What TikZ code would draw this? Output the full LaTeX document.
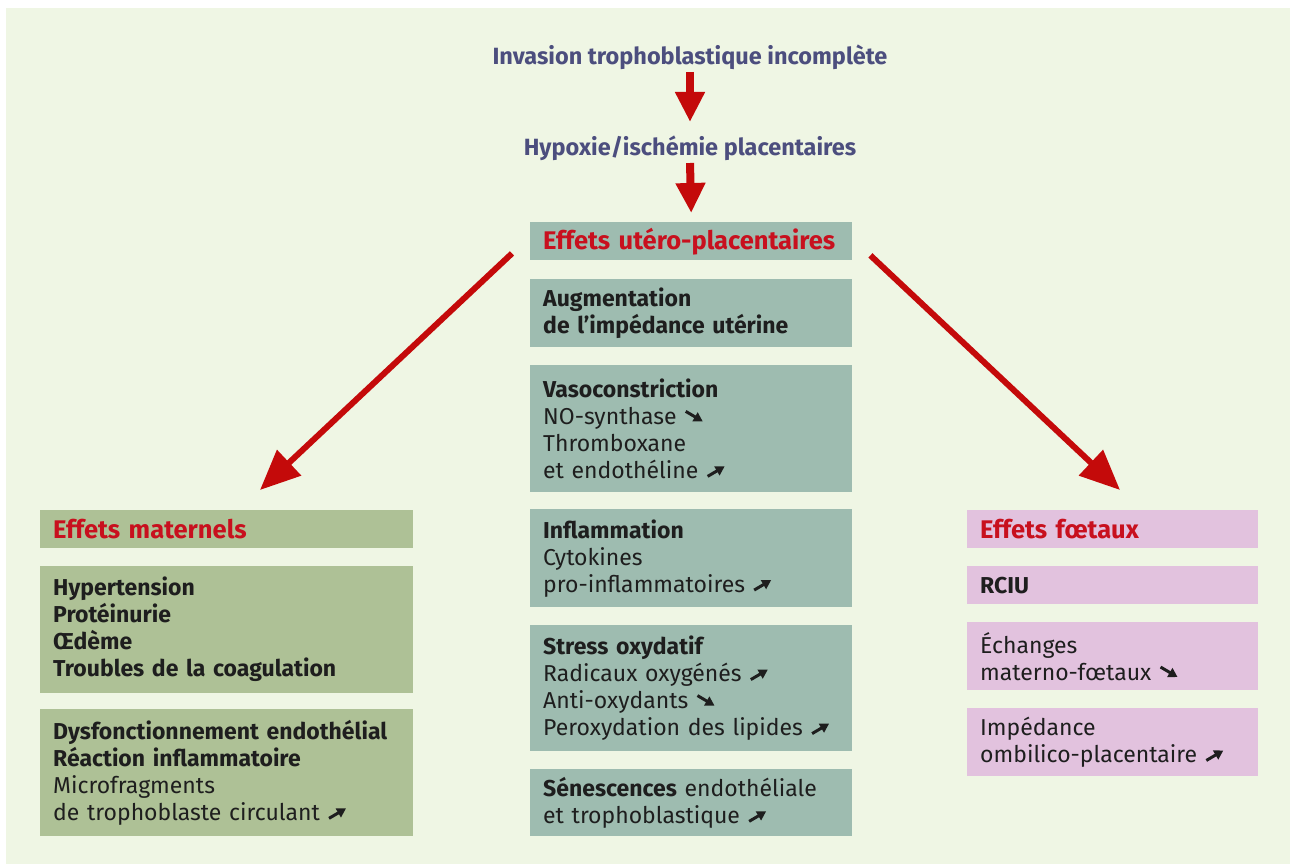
\documentclass[tikz,border=0pt]{standalone}
\usepackage{fontspec}
\setmainfont{Fira Sans}
\usetikzlibrary{arrows.meta,calc}
\definecolor{panel}{HTML}{EFF6E4}
\definecolor{cenc}{HTML}{9EBCB0}
\definecolor{matc}{HTML}{AEC196}
\definecolor{foec}{HTML}{E2C2DE}
\definecolor{titred}{HTML}{C8101E}
\definecolor{arrred}{HTML}{C40A0A}
\definecolor{slate}{HTML}{4C4E7E}
\definecolor{ink}{HTML}{1E1E1E}
\newcommand{\incr}{\tikz[baseline=0pt,x=1pt,y=1pt]\draw[ink,line width=3pt,-{Triangle[length=9pt,width=10pt]}] (0,2) -- (17,12);}
\newcommand{\decr}{\tikz[baseline=0pt,x=1pt,y=1pt]\draw[ink,line width=3pt,-{Triangle[length=9pt,width=10pt]}] (0,13) -- (17,3);}
\begin{document}
\begin{tikzpicture}[x=1pt,y=-1pt,
  box/.style={anchor=north west, inner xsep=13pt, inner ysep=0pt, align=left,
    text=ink, font=\fontsize{23}{27}\selectfont},
  cbox/.style={box, fill=cenc, minimum width=322pt, text width=296pt},
  mbox/.style={box, fill=matc, minimum width=373pt, text width=347pt},
  fbox/.style={box, fill=foec, minimum width=291pt, text width=265pt},
  hd/.style={text=titred, font=\bfseries\fontsize{25.5}{28}\selectfont},
  top/.style={text=slate, font=\bfseries\fontsize{23.5}{26}\selectfont},
  varrow/.style={draw=arrred, line width=8pt, -{Triangle[length=30pt,width=28pt]}},
  darrow/.style={draw=arrred, line width=6pt, -{Triangle[length=40pt,width=34pt]}}
]
\useasboundingbox (0,0) rectangle (1290,864);
\fill[white] (0,0) rectangle (1290,864);
\fill[panel] (6,8) rectangle (1290,864);

\node[top] (t1) at (690,57) {Invasion trophoblastique incomplète};
\node[top] (t2) at (690,148) {Hypoxie/ischémie placentaires};

% centre column
\node[cbox, hd, minimum height=38pt] (ut) at (530,222) {\mbox{Effets utéro-placentaires}};
\node[cbox, minimum height=68pt] (c1) at (530,279) {\bfseries Augmentation\\de l’impédance utérine};
\node[cbox, minimum height=127pt] (c2) at (530,365) {\textbf{Vasoconstriction}\\NO-synthase \decr\\Thromboxane\\et endothéline \incr};
\node[cbox, minimum height=98pt] (c3) at (530,509) {\textbf{Inflammation}\\Cytokines\\pro-inflammatoires \incr};
\node[cbox, minimum height=126pt] (c4) at (530,625) {\textbf{Stress oxydatif}\\Radicaux oxygénés \incr\\Anti-oxydants \decr\\Peroxydation des lipides \incr};
\node[cbox, minimum height=67pt] (c5) at (530,769) {\textbf{Sénescences} endothéliale\\et trophoblastique \incr};

% maternal column
\node[mbox, hd, minimum height=38pt] (mat) at (40,510) {Effets maternels};
\node[mbox, minimum height=127pt] (m1) at (40,566) {\bfseries Hypertension\\Protéinurie\\Œdème\\Troubles de la coagulation};
\node[mbox, minimum height=127pt] (m2) at (40,709) {\textbf{Dysfonctionnement endothélial}\\\textbf{Réaction inflammatoire}\\Microfragments\\de trophoblaste circulant \incr};

% foetal column
\node[fbox, hd, minimum height=38pt] (foe) at (967,510) {Effets fœtaux};
\node[fbox, minimum height=38pt] (f1) at (967,566) {\textbf{RCIU}};
\node[fbox, minimum height=68pt] (f2) at (967,622) {Échanges\\materno-fœtaux \decr};
\node[fbox, minimum height=68pt] (f3) at (967,708) {Impédance\\ombilico-placentaire \incr};

% arrows
\draw[varrow] ($(t1)+(0,15)$) -- ($(t2)+(0,-26)$);
\draw[varrow] ($(t2)+(0,15)$) -- ($(ut.north)+(0,-9)$);
\coordinate (ls) at ($(ut.south west)+(-18,-7)$);
\coordinate (le) at ($(mat.north west)+(220,-20)$);
\coordinate (rs) at ($(ut.south east)+(18,-5)$);
\coordinate (re) at ($(foe.north west)+(153,-20)$);
\draw[darrow] (ls) -- (le);
\draw[darrow] (rs) -- (re);
\end{tikzpicture}
\end{document}
